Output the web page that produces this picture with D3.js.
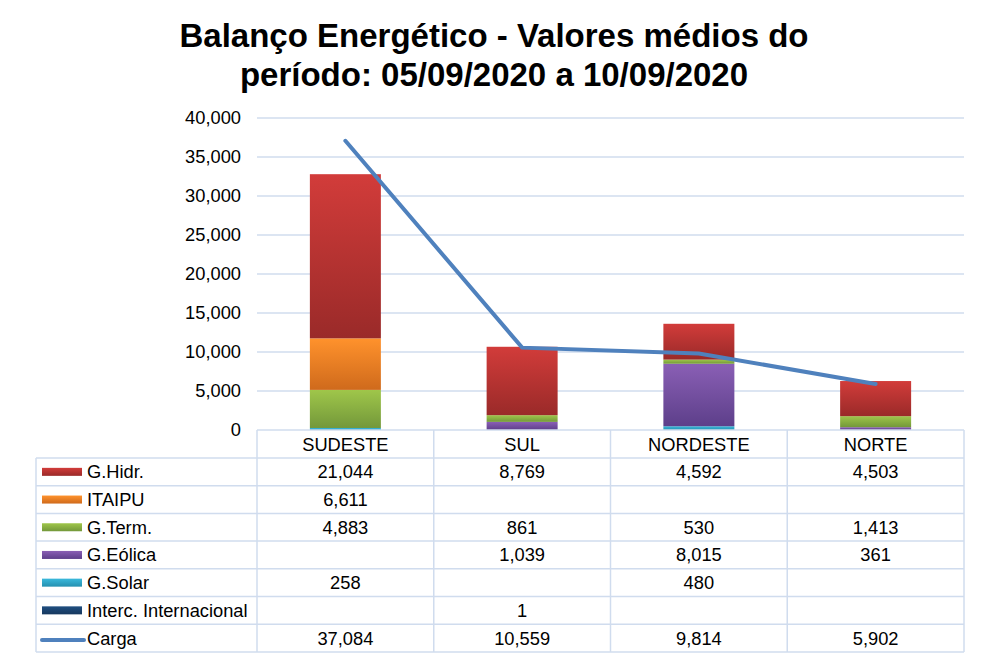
<!DOCTYPE html>
<html><head><meta charset="utf-8">
<script src="https://cdn.jsdelivr.net/npm/d3@7"></script>
<style>body{margin:0;background:#fff}svg{font-family:Arial,"Liberation Sans",sans-serif}</style>
</head><body><svg id="c" width="988" height="664"></svg>
<script>
const categories = ["SUDESTE","SUL","NORDESTE","NORTE"];
const seriesNames = ["G.Hidr.","ITAIPU","G.Term.","G.Eólica","G.Solar","Interc. Internacional"];
const gHidr = [21044, 8769, 4592, 4503];
const itaipu = [6611, null, null, null];
const gTerm = [4883, 861, 530, 1413];
const gEolica = [null, 1039, 8015, 361];
const gSolar = [258, null, 480, null];
const interc = [null, 1, null, null];
const carga = [37084, 10559, 9814, 5902];
const yTicks = [0,5000,10000,15000,20000,25000,30000,35000,40000];
const colors = [["#d23c3a","#9a2a29"],["#ff922c","#cf6a1c"],["#9fc64a","#73983a"],["#8a5fb5","#5d3f8a"],["#3ab9dc","#2590b0"],["#1f4e80","#16385e"]];
const lineColor = "#4f81bd";
const FS = 18.3;

const svg = d3.select("#c");
const defs = svg.append("defs");
colors.forEach((c,i)=>{
  const g = defs.append("linearGradient").attr("id","g"+i).attr("x1",0).attr("y1",0).attr("x2",0).attr("y2",1);
  g.append("stop").attr("offset","0%").attr("stop-color",c[0]);
  g.append("stop").attr("offset","100%").attr("stop-color",c[1]);
});

svg.append("text").attr("x",494).attr("y",47).attr("text-anchor","middle").attr("font-size",33).attr("font-weight","bold").text("Balanço Energético - Valores médios do");
svg.append("text").attr("x",494).attr("y",86).attr("text-anchor","middle").attr("font-size",33).attr("font-weight","bold").text("período: 05/09/2020 a 10/09/2020");

const L=257,R=964,T=118,B=430;
const x = d3.scaleBand().domain(categories).range([L,R]).paddingInner(0).paddingOuter(0);
const y = d3.scaleLinear().domain([0,40000]).range([B,T]);

svg.append("g").selectAll("line").data(yTicks.slice(1)).join("line")
 .attr("x1",L).attr("x2",R).attr("y1",d=>y(d)).attr("y2",d=>y(d)).attr("stroke","#d0dcee").attr("stroke-width",1.3);
const ya = svg.append("g").attr("transform",`translate(${L},0)`).call(d3.axisLeft(y).tickValues(yTicks).tickFormat(d3.format(",")).tickSize(0).tickPadding(16));
ya.select(".domain").remove();
ya.selectAll("text").attr("font-size",FS).attr("fill","#000").attr("font-family","Arial,'Liberation Sans',sans-serif");

const all = [gHidr,itaipu,gTerm,gEolica,gSolar,interc];
const stackOrder = [5,4,3,2,1,0];
const bw = 71;
categories.forEach((c,ci)=>{
  let acc=0;
  stackOrder.forEach(si=>{
    const v = all[si][ci]||0; if(!v) return;
    svg.append("rect").attr("x",x(c)+x.bandwidth()/2-bw/2).attr("width",bw)
      .attr("y",y(acc+v)).attr("height",y(acc)-y(acc+v)).attr("fill",`url(#g${si})`);
    acc+=v;
  });
});

const line = d3.line().x(d=>x(d[0])+x.bandwidth()/2).y(d=>y(d[1]));
svg.append("path").attr("d",line(categories.map((c,i)=>[c,carga[i]]))).attr("fill","none").attr("stroke",lineColor).attr("stroke-width",4).attr("stroke-linecap","round");

const rows = seriesNames.concat(["Carga"]);
const rowVals = all.concat([carga]);
const rowTop = 458, rh = 27.7, tl = 36;
const gc="#d0dcee";
const tb = svg.append("g").attr("stroke",gc).attr("stroke-width",1.5);
categories.forEach((c,i)=>{ tb.append("line").attr("x1",x(c)).attr("x2",x(c)).attr("y1",B).attr("y2",rowTop+rh*7); });
tb.append("line").attr("x1",R).attr("x2",R).attr("y1",B).attr("y2",rowTop+rh*7);
tb.append("line").attr("x1",L).attr("x2",R).attr("y1",B).attr("y2",B);
tb.append("line").attr("x1",tl).attr("x2",tl).attr("y1",rowTop).attr("y2",rowTop+rh*7);
for(let i=0;i<=7;i++) tb.append("line").attr("x1",tl).attr("x2",R).attr("y1",rowTop+rh*i).attr("y2",rowTop+rh*i);

categories.forEach(c=>svg.append("text").attr("x",x(c)+x.bandwidth()/2).attr("y",451).attr("text-anchor","middle").attr("font-size",FS).text(c));
rows.forEach((r,i)=>{
  const cy = rowTop+rh*i+rh/2;
  if(i<6) svg.append("rect").attr("x",42).attr("y",cy-4).attr("width",40).attr("height",8).attr("fill",`url(#g${i})`);
  else svg.append("line").attr("x1",42).attr("x2",84).attr("y1",cy+2).attr("y2",cy+2).attr("stroke",lineColor).attr("stroke-width",4).attr("stroke-linecap","round");
  svg.append("text").attr("x",87).attr("y",cy+6.5).attr("font-size",FS).text(r);
  categories.forEach((c,ci)=>{
    const v=rowVals[i][ci]; if(v==null) return;
    svg.append("text").attr("x",x(c)+x.bandwidth()/2).attr("y",cy+6.5).attr("text-anchor","middle").attr("font-size",FS).text(d3.format(",")(v));
  });
});
</script></body></html>
